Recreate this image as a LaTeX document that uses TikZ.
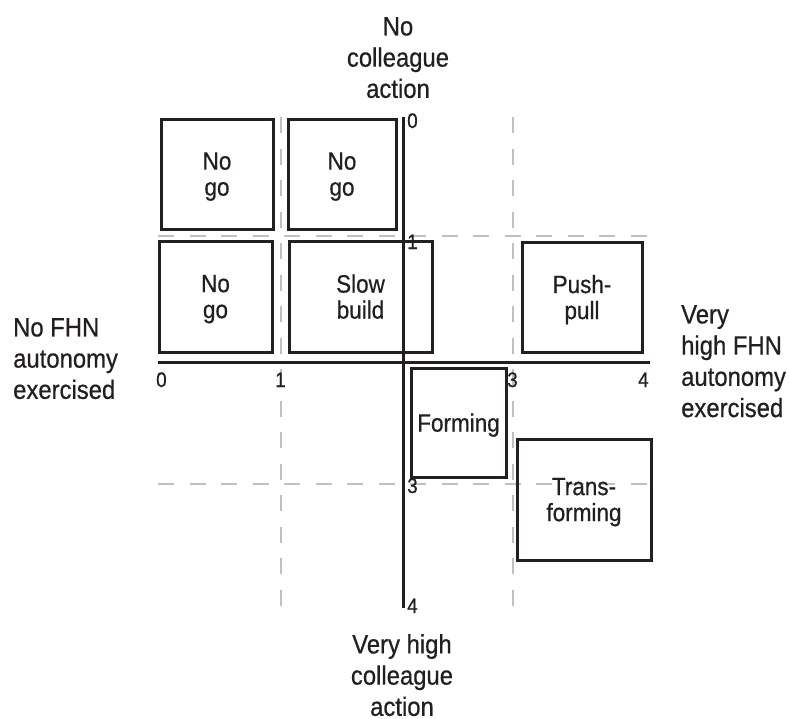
\documentclass[tikz,border=0pt]{standalone}
\usepackage{fontspec}
\setmainfont[FakeStretch=0.9,FakeBold=0.6]{Liberation Sans}
\definecolor{ink}{HTML}{231F20}
\definecolor{gridc}{HTML}{C0C0C4}
\begin{document}
\begin{tikzpicture}[x=1pt,y=-1pt,
  box/.style={draw=ink, line width=3pt, inner sep=0pt, align=center, text depth=0pt,
    font=\fontsize{25}{26}\selectfont, text=ink},
  axisline/.style={draw=ink, line width=3pt},
  gridline/.style={draw=gridc, line width=2.7pt, dash pattern=on 16pt off 15.5pt},
  tick/.style={inner sep=0pt, anchor=base west, font=\fontsize{21}{21}\selectfont, text=ink},
  lab/.style={inner sep=0pt, font=\fontsize{26.5}{31.2}\selectfont, text=ink}]
\useasboundingbox (0,0) rectangle (789,718);
% grid coordinates
\coordinate (g1t) at (281,117); \coordinate (g1b) at (281,608);
\coordinate (g2t) at (513,117); \coordinate (g2b) at (513,608);
\coordinate (g3l) at (158,236); \coordinate (g3r) at (650,236);
\coordinate (g4l) at (158,484); \coordinate (g4r) at (650,484);
\draw[gridline] (g1t) -- (g1b);
\draw[gridline] (g2t) -- (g2b);
\draw[gridline] (g3l) -- (g3r);
\draw[gridline] (g4l) -- (g4r);
% boxes
\node[box, minimum width=112pt, minimum height=110pt] (ng1) at (217,174) {No\\go};
\node[box, minimum width=108pt, minimum height=110pt] (ng2) at (342,174) {No\\go};
\node[box, minimum width=113pt, minimum height=111pt] (ng3) at (215.5,296.5) {No\\go};
\node[box, minimum width=143pt, minimum height=111pt] (slow) at (360.5,296.5) {Slow\\build};
\node[box, minimum width=120pt, minimum height=110pt] (push) at (582,297) {Push-\\pull};
\node[box, minimum width=95pt, minimum height=109pt] (form) at (458.5,422.5) {Forming};
\node[box, minimum width=134pt, minimum height=121pt] (trans) at (584,499.5) {Trans-\\forming};
% axes
\coordinate (vt) at (403,117); \coordinate (vb) at (403,608);
\coordinate (hl) at (158,362); \coordinate (hr) at (650,362);
\draw[axisline] (vt) -- (vb);
\draw[axisline] (hl) -- (hr);
% ticks
\node[tick] (v0) at (407,128) {0};
\node[tick] (v1) at (407,249) {1};
\node[tick] (v3) at (407,493) {3};
\node[tick] (v4) at (407,613) {4};
\node[tick] (h0) at (156,387) {0};
\node[tick] (h1) at (275,387) {1};
\node[tick] (h3) at (507,387) {3};
\node[tick] (h4) at (638,387) {4};
% labels
\node[lab, anchor=north, align=center] (top) at (398,17) {No\\colleague\\action};
\node[lab, anchor=north, align=center] (bot) at (402,634) {Very high\\colleague\\action};
\node[lab, anchor=north west, align=left] (left) at (13,318) {No FHN\\autonomy\\exercised};
\node[lab, anchor=north west, align=left] (right) at (681,305) {Very\\high FHN\\autonomy\\exercised};
\end{tikzpicture}
\end{document}
